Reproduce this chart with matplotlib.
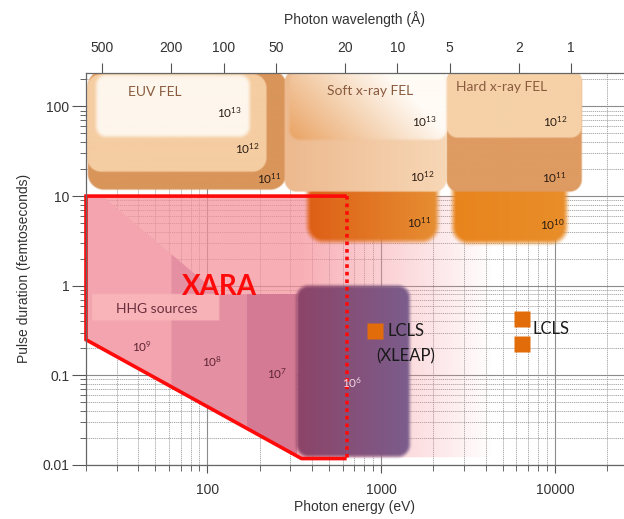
import numpy as np
import matplotlib
matplotlib.use("Agg")
import matplotlib.pyplot as plt
import matplotlib.colors as mcolors
from matplotlib.patches import Polygon
from matplotlib.ticker import FixedLocator, LogLocator, NullLocator, FuncFormatter

# ------------------------------------------------------------------ data
HC = 12398.4                      # eV * Angstrom
E_LIM = (20, 25000)               # photon energy (eV)
T_LIM = (0.01, 238)               # pulse duration (fs)

energy_ticks = [100, 1000, 10000]
wavelength_ticks = [500, 200, 100, 50, 20, 10, 5, 2, 1]
duration_ticks = [0.01, 0.1, 1, 10, 100]

# EUV FEL layers (outer -> inner): energy range (eV), duration range (fs)
euv_E = [(20.5, 285), (20.3, 219), (22.9, 175)]
euv_T = [(11.8, 250), (18.7, 226), (45.9, 221)]
# Soft x-ray FEL: main box, highlight, short-pulse box
sxr_E = [(278, 2380), (297, 2380), (377, 2120)]
sxr_T = [(11.2, 250), (42.5, 250), (3.1, 25.5)]
# Hard x-ray FEL: top, middle, short-pulse box
hxr_E = [(2380, 14300), (2380, 14300), (2580, 11700)]
hxr_T = [(44.8, 250), (11.2, 250), (3.0, 33)]

# flux labels: (label, energy, duration)
flux_labels = ["10$^{13}$", "10$^{12}$", "10$^{11}$",
               "10$^{13}$", "10$^{12}$", "10$^{11}$",
               "10$^{12}$", "10$^{11}$", "10$^{10}$"]
flux_E = [134, 170, 228, 1780, 1730, 1670, 10100, 9900, 9730]
flux_T = [85, 33.8, 15.6, 67.5, 16.5, 5.05, 67.5, 16.0, 4.8]

# source names
source_names = ["EUV FEL", "Soft x-ray FEL", "Hard x-ray FEL"]
source_E = [49.5, 859, 4940]
source_T = [146, 149, 166]

# XARA envelope
xara_E = [20, 633, 633, 348, 20]
xara_T = [10, 10, 0.0118, 0.0118, 0.25]
xara_glow_E = [20, 4300, 4300, 348, 20]
xara_glow_T = [10, 10, 0.0122, 0.0122, 0.25]

# HHG sources: upper boundary and flux bands
hhg_top_E = [20, 24.8, 117, 326]
hhg_top_T = [10, 10, 0.80, 0.80]
hhg_band_E = [20, 62, 170, 326]
hhg_band_labels = ["10$^{9}$", "10$^{8}$", "10$^{7}$"]
hhg_band_label_E = [42.2, 107, 253]
hhg_band_label_T = [0.21, 0.143, 0.105]
hhg6_E = (326, 1460)
hhg6_T = (0.0124, 0.977)
hhg6_label_E, hhg6_label_T = 685, 0.083
hhg_box_E = (21.7, 117)
hhg_box_T = (0.41, 0.81)

# LCLS points
lcls_xleap_E = [918]
lcls_xleap_T = [0.316]
lcls_E = [6460, 6460]
lcls_T = [0.42, 0.226]

# ------------------------------------------------------------------ figure
plt.rcParams['font.family'] = ['Liberation Sans', 'DejaVu Sans']
plt.rcParams['mathtext.fontset'] = 'custom'
plt.rcParams['mathtext.rm'] = 'Lato'
plt.rcParams['mathtext.it'] = 'Lato:italic'
plt.rcParams['mathtext.bf'] = 'Lato:bold'
LATO = ['Lato', 'DejaVu Sans']

FW, FH = 624, 519
fig = plt.figure(figsize=(FW / 100, FH / 100), dpi=100)
L, R, B, TOP = 86, 624, 465, 72.7
ax = fig.add_axes([L / FW, 1 - B / FH, (R - L) / FW, (B - TOP) / FH])
W, H = R - L, B - TOP
ax.set_xscale('log')
ax.set_yscale('log')
ax.set_xlim(*E_LIM)
ax.set_ylim(*T_LIM)
ax.set_autoscale_on(False)


def to_px(e, t):
    d = ax.transData.transform((e, t))
    a = ax.transAxes.inverted().transform(d)
    return a[0] * W, a[1] * H


def region(E, T, c0, c1=None, r=10, blur=0.8, z=2, alpha=1.0, shade=None):
    x0, y0 = to_px(E[0], T[0])
    x1, y1 = to_px(E[1], T[1])
    m = 2 * blur + 2
    step = 0.5
    xs = np.arange(np.floor(x0 - m), np.ceil(x1 + m), step) + step / 2
    ys = np.arange(np.floor(y0 - m), np.ceil(y1 + m), step) + step / 2
    X, Y = np.meshgrid(xs, ys)
    cx, cy = (x0 + x1) / 2, (y0 + y1) / 2
    hw, hh = (x1 - x0) / 2, (y1 - y0) / 2
    rr = min(r, hw, hh)
    qx = np.abs(X - cx) - (hw - rr)
    qy = np.abs(Y - cy) - (hh - rr)
    d = (np.hypot(np.maximum(qx, 0), np.maximum(qy, 0))
         + np.minimum(np.maximum(qx, qy), 0) - rr)
    a = np.clip(0.5 - d / (2 * max(blur, 0.5)), 0, 1)
    a = a * a * (3 - 2 * a)
    u = np.clip((X - x0) / (x1 - x0), 0, 1)
    v = np.clip((Y - y0) / (y1 - y0), 0, 1)
    if shade is not None:
        rgb = shade(u, v)
    else:
        k0 = np.array(mcolors.to_rgb(c0))
        k1 = k0 if c1 is None else np.array(mcolors.to_rgb(c1))
        rgb = k0[None, None, :] * (1 - u[..., None]) + k1[None, None, :] * u[..., None]
    rgba = np.dstack([rgb, a * alpha])
    ext = ((xs[0] - step / 2) / W, (xs[-1] + step / 2) / W,
           (ys[0] - step / 2) / H, (ys[-1] + step / 2) / H)
    ax.imshow(rgba, extent=ext, origin='lower', transform=ax.transAxes,
              interpolation='bilinear', aspect='auto', zorder=z)


# ------------------------------------------------------------------ grid
ax.grid(which='major', color='#8c8c8c', lw=0.8, ls='-', zorder=0.5)
ax.grid(which='minor', color='#9c9c9c', lw=0.6, ls=(0, (1.5, 1.0)), zorder=0.5)
ax.set_axisbelow(True)

# ------------------------------------------------------------------ XARA glow
xara_poly = Polygon(np.column_stack([xara_E, xara_T]), closed=True,
                    transform=ax.transData, fc='none', ec='none')
glow_poly = Polygon(np.column_stack([xara_glow_E, xara_glow_T]), closed=True,
                    transform=ax.transData, fc='none', ec='none')
gx0, _ = to_px(E_LIM[0], 1)
gx1, _ = to_px(xara_glow_E[1], 1)
_, gy0 = to_px(1, 0.011)
_, gy1 = to_px(1, 10.5)
n = 400
xx = np.linspace(gx0, gx1, n)
alpha_ramp = np.clip((495 - 86 - xx) / (495 - 300), 0, 1) * 0.72
glow = np.zeros((2, n, 4))
glow[..., :3] = mcolors.to_rgb('#F58F98')
glow[..., 3] = alpha_ramp[None, :]
im = ax.imshow(glow, extent=(gx0 / W, gx1 / W, gy0 / H, gy1 / H), origin='lower',
               transform=ax.transAxes, interpolation='bilinear', aspect='auto', zorder=1)
im.set_clip_path(glow_poly)

# ------------------------------------------------------------------ HHG bands
band_colors = ['#F3A4AE', '#E590A2', '#D57A95']
lt_E = np.log10(hhg_top_E)
lt_T = np.log10(hhg_top_T)
for i in range(3):
    e0, e1 = hhg_band_E[i], hhg_band_E[i + 1]
    es = [e0] + [e for e in hhg_top_E if e0 < e < e1] + [e1]
    ts = [10 ** np.interp(np.log10(e), lt_E, lt_T) for e in es]
    verts = list(zip(es, ts)) + [(e1, 0.005), (e0, 0.005)]
    p = Polygon(verts, closed=True, fc=band_colors[i], ec='none', zorder=2)
    ax.add_patch(p)
    p.set_clip_path(xara_poly)

# HHG sources label box
region(hhg_box_E, hhg_box_T, '#FAB7BA', r=0, blur=0.6, z=2.5, alpha=0.92)

# 10^6 purple box
region(hhg6_E, hhg6_T, '#8D4468', '#7B5D8C', r=12, blur=3, z=3)

# ------------------------------------------------------------------ FEL boxes
# EUV
region(euv_E[0], euv_T[0], '#D9955A', r=16, blur=0.8, z=4)
region(euv_E[1], euv_T[1], '#F5CDA2', r=14, blur=0.8, z=4.1)
region(euv_E[2], euv_T[2], '#FEF6EC', r=10, blur=3, z=4.2)

# Soft x-ray
region(sxr_E[2], sxr_T[2], '#DD5F16', '#E68E32', r=16, blur=4, z=4)
region(sxr_E[0], sxr_T[0], '#EDB98E', '#F7D7B6', r=12, blur=0.8, z=4.5)


def sxr_shade(u, v):
    c_or = np.array(mcolors.to_rgb('#EAA76A'))
    c_wh = np.array(mcolors.to_rgb('#FFFBF5'))
    t = np.clip(1.0 * u + 0.45 * v - 0.05, 0, 1)[..., None]
    return c_or * (1 - t) + c_wh * t


region(sxr_E[1], sxr_T[1], None, r=10, blur=2.0, z=4.6, shade=sxr_shade)

# Hard x-ray
region(hxr_E[2], hxr_T[2], '#E8841C', '#E88E2A', r=16, blur=4, z=4)
region(hxr_E[1], hxr_T[1], '#DE9B62', r=12, blur=0.8, z=4.3)
region(hxr_E[0], hxr_T[0], '#F6D1A8', r=11, blur=0.8, z=4.4)

# ------------------------------------------------------------------ XARA outline
ax.plot([xara_E[2], xara_E[3], xara_E[4], xara_E[0], xara_E[1]],
        [xara_T[2], xara_T[3], xara_T[4], xara_T[0], xara_T[1]],
        color='#FF0A0A', lw=2.6, solid_joinstyle='miter', solid_capstyle='butt',
        zorder=6, clip_on=False)
ax.plot([xara_E[1], xara_E[2]], [xara_T[1], xara_T[2]], color='#FF0A0A', lw=2.6,
        ls=(0, (1.0, 1.1)), dash_capstyle='butt', zorder=6, clip_on=False)

# ------------------------------------------------------------------ texts
for name, e, t in zip(source_names, source_E, source_T):
    ax.text(e, t, name, fontsize=10, family=LATO, color='#8A5B3E',
            ha='center', va='center', zorder=7)
for lab, e, t in zip(flux_labels, flux_E, flux_T):
    ax.text(e, t, lab, fontsize=8.5, family=LATO, color='#2A1C12',
            ha='center', va='center', zorder=7)

ax.text(117, 0.98, 'XARA', fontsize=20, family=LATO, fontweight='bold',
        color='#FF0A0A', ha='center', va='center', zorder=7)
ax.text(50.8, 0.556, 'HHG sources', fontsize=10, family=LATO, color='#6A2E3E',
        ha='center', va='center', zorder=7)
for lab, e, t in zip(hhg_band_labels, hhg_band_label_E, hhg_band_label_T):
    ax.text(e, t, lab, fontsize=8.5, family=LATO, color='#5E2434',
            ha='center', va='center', zorder=7)
ax.text(hhg6_label_E, hhg6_label_T, '10$^{6}$', fontsize=8.5, family=LATO,
        color='#F4D6E2', ha='center', va='center', zorder=7)

# LCLS markers
ax.plot(lcls_xleap_E, lcls_xleap_T, 's', ms=11.5, color='#E36C0A', mec='none', zorder=8)
ax.plot(lcls_E, lcls_T, 's', ms=11.5, color='#E36C0A', mec='none', zorder=8)
ax.text(1090, 0.316, 'LCLS', fontsize=12, family=LATO, color='#1A1A1A',
        ha='left', va='center', zorder=8)
ax.text(940, 0.162, '(XLEAP)', fontsize=12, family=LATO, color='#1A1A1A',
        ha='left', va='center', zorder=8)
ax.text(7460, 0.333, 'LCLS', fontsize=12, family=LATO, color='#1A1A1A',
        ha='left', va='center', zorder=8)

# ------------------------------------------------------------------ axes styling
fmt = FuncFormatter(lambda v, _: f"{v:g}")
ax.xaxis.set_major_locator(FixedLocator(energy_ticks))
ax.xaxis.set_minor_locator(LogLocator(base=10, subs=np.arange(2, 10)))
ax.xaxis.set_major_formatter(fmt)
ax.yaxis.set_major_locator(FixedLocator(duration_ticks))
ax.yaxis.set_minor_locator(LogLocator(base=10, subs=np.arange(2, 10)))
ax.yaxis.set_major_formatter(fmt)
ax.xaxis.set_minor_formatter(FuncFormatter(lambda v, _: ''))
ax.yaxis.set_minor_formatter(FuncFormatter(lambda v, _: ''))

ax.tick_params(axis='x', which='major', direction='out', length=6, width=0.8,
               color='#555555', labelcolor='#333333', labelsize=10, pad=7, top=False)
ax.tick_params(axis='x', which='minor', direction='out', length=4.5, width=0.7,
               color='#666666', top=False)
ax.tick_params(axis='y', which='major', direction='out', length=10, width=0.8,
               color='#555555', labelcolor='#333333', labelsize=10, pad=2, right=False)
ax.tick_params(axis='y', which='minor', direction='out', length=4.5, width=0.7,
               color='#666666', right=False)

for s in ['left', 'bottom', 'top']:
    ax.spines[s].set_color('#666666')
    ax.spines[s].set_linewidth(0.9)
    ax.spines[s].set_zorder(9)
ax.spines['right'].set_visible(False)

ax.set_xlabel('Photon energy (eV)', fontsize=10, color='#333333', labelpad=2)
ax.set_ylabel('Pulse duration (femtoseconds)', fontsize=10, color='#333333', labelpad=8)


def e2l(e):
    e = np.asarray(e, dtype=float)
    with np.errstate(divide='ignore'):
        return HC / e


secax = ax.secondary_xaxis('top', functions=(e2l, e2l))
secax.set_xticks(wavelength_ticks)
secax.xaxis.set_minor_locator(NullLocator())
secax.xaxis.set_major_formatter(fmt)
secax.tick_params(axis='x', direction='out', length=7, width=0.8, color='#555555',
                  labelcolor='#333333', labelsize=10, pad=6)
secax.spines['top'].set_visible(False)
secax.set_xlabel('Photon wavelength (Å)', fontsize=10, color='#333333', labelpad=12)

fig.savefig('out.png', dpi=100)
